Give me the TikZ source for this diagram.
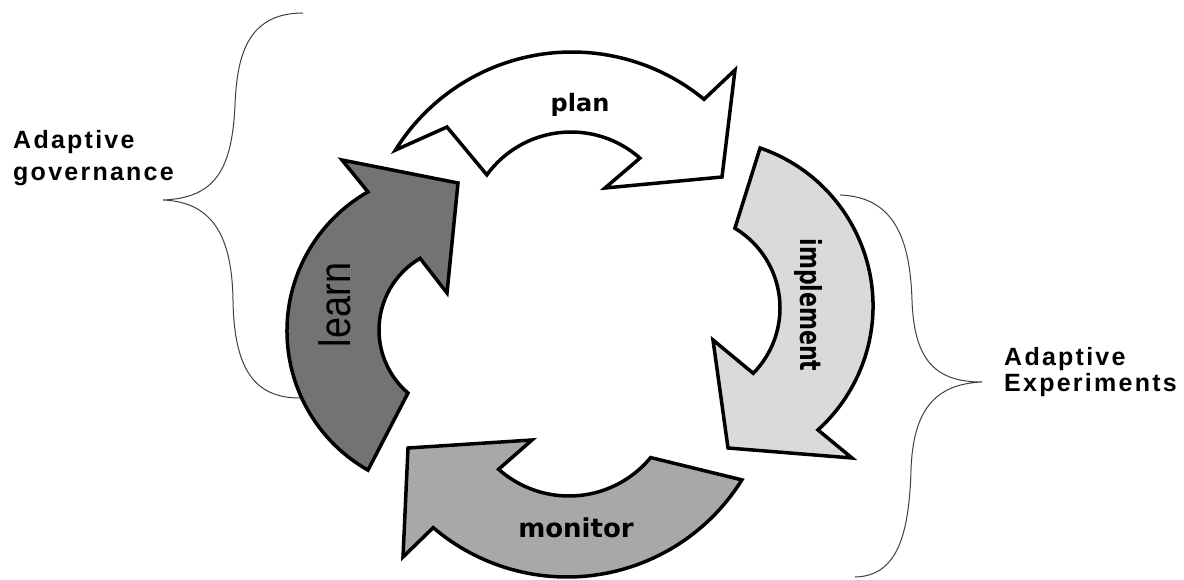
\documentclass[tikz,border=0pt]{standalone}
\usepackage{fontspec}
\usetikzlibrary{calc}
\newfontfamily\lblfont[LetterSpace=9,BoldFont={Liberation Sans Bold}]{Liberation Sans}
\newfontfamily\arrfont{DejaVu Sans}
\newfontfamily\learnfont{Liberation Sans}
\definecolor{implcol}{HTML}{DADADA}
\definecolor{learncol}{HTML}{737373}
\definecolor{moncol}{HTML}{A8A8A8}
\begin{document}
\begin{tikzpicture}[x=1pt,y=-1pt,
  arrowshape/.style={draw=black, line width=3.5pt},
  bracepath/.style={draw=black!75, line width=1pt},
  sidelabel/.style={inner sep=0pt, align=left, anchor=north west},
  arrlabel/.style={inner sep=0pt, anchor=base}]
\useasboundingbox[fill=white] (0,0) rectangle (1184,580);

% braces
\draw[bracepath] (303,13) .. controls (245,13) and (237,60) .. (235,105)
  .. controls (232,170) and (215,198) .. (163,200)
  .. controls (215,202) and (232,240) .. (233,300)
  .. controls (234,370) and (255,398) .. (300,398);
\draw[bracepath] (840,195) .. controls (895,197) and (910,240) .. (912,300)
  .. controls (914,360) and (935,382) .. (982,382)
  .. controls (935,384) and (913,410) .. (911,470)
  .. controls (909,540) and (895,576) .. (855,577);

% plan arrow
\draw[arrowshape, fill=white] ($(572,260)+(-148.1:208)$)
  arc[start angle=-148.1, end angle=-50.6, radius=208]
  -- (735,70) -- (722,177) -- (605,188)
  -- ($(571,236)+(-48.5:104)$)
  arc[start angle=-48.5, end angle=-144, radius=104]
  -- (447,127) -- cycle;

% implement arrow
\draw[arrowshape, fill=implcol] ($(706,306)+(-71.1:167)$)
  arc[start angle=-71.1, end angle=47.9, radius=167]
  -- (852,458) -- (728,448) -- (713,340)
  -- ($(687,308)+(44.6:93)$)
  arc[start angle=44.6, end angle=-59, radius=93]
  -- cycle;

% monitor arrow
\draw[arrowshape, fill=moncol] ($(567,371)+(31.9:206)$)
  arc[start angle=31.9, end angle=130.5, radius=206]
  -- (403,557) -- (408,448) -- (532,440)
  -- ($(569,390)+(131.6:106)$)
  arc[start angle=131.6, end angle=39.6, radius=106]
  -- cycle;

% learn arrow
\draw[arrowshape, fill=learncol] ($(447,331)+(119.6:160)$)
  arc[start angle=119.6, end angle=240.4, radius=160]
  -- (342,160) -- (458,183) -- (447,293)
  -- ($(462,330)+(239.7:83)$)
  arc[start angle=239.7, end angle=130.6, radius=83]
  -- cycle;

% labels
\node[arrlabel, font=\arrfont\bfseries\fontsize{24}{26}\selectfont] (plan) at (580,112) {plan};
\node[arrlabel, font=\arrfont\bfseries\fontsize{26}{28}\selectfont] (monitor) at (576,537) {monitor};
\node[arrlabel, rotate=-90, font=\arrfont\bfseries\fontsize{29}{30}\selectfont] (implement) at (800,305) {\scalebox{0.76}[1]{implement}};
\node[arrlabel, rotate=90, font=\learnfont\fontsize{44}{46}\selectfont] (learn) at (350,305) {\scalebox{0.86}[1]{learn}};

\node[sidelabel, font=\lblfont\bfseries\fontsize{25}{32}\selectfont] (gov) at (13,130) {Adaptive\\governance};
\node[sidelabel, font=\lblfont\bfseries\fontsize{25}{26}\selectfont] (exp) at (1004,347) {Adaptive\\Experiments};
\end{tikzpicture}
\end{document}
